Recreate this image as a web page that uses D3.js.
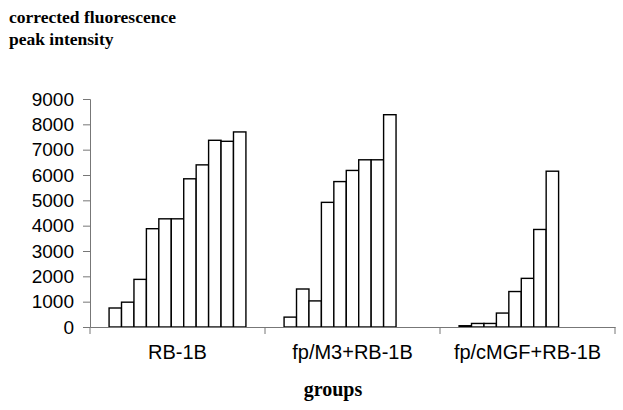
<!DOCTYPE html>
<html><head><meta charset="utf-8">
<script src="https://cdn.jsdelivr.net/npm/d3@7"></script>
<style>body{margin:0;background:#fff}</style>
</head><body>
<script>
const groups = ["RB-1B", "fp/M3+RB-1B", "fp/cMGF+RB-1B"];
const rb1b = [750, 980, 1880, 3880, 4270, 4270, 5850, 6400, 7370, 7330, 7700];
const fpM3 = [390, 1500, 1030, 4920, 5740, 6180, 6600, 6600, 8380];
const fpCMGF = [50, 140, 140, 550, 1400, 1920, 3850, 6150];
const yTicks = [0, 1000, 2000, 3000, 4000, 5000, 6000, 7000, 8000, 9000];
const titleLines = ["corrected fluorescence", "peak intensity"];
const xTitle = "groups";
const series = [rb1b, fpM3, fpCMGF];
const maxBars = 11;

const W = 623, H = 410;
const svg = d3.select("body").append("svg").attr("width", W).attr("height", H);
const x0 = d3.scaleBand().domain(groups).range([90, 615]).padding(0);
const x1 = d3.scaleBand().domain(d3.range(maxBars))
  .range([x0.bandwidth() * 0.109, x0.bandwidth() * 0.891]).padding(0);
const y = d3.scaleLinear().domain([0, 9000]).range([327, 99]);

// bars
groups.forEach((g, gi) => {
  svg.append("g").selectAll("rect").data(series[gi]).join("rect")
    .attr("x", (d, i) => x0(g) + x1(i))
    .attr("y", d => y(d))
    .attr("width", x1.bandwidth())
    .attr("height", d => y(0) - y(d))
    .attr("fill", "#fff").attr("stroke", "#000").attr("stroke-width", 1.4);
});

// y axis
const ya = svg.append("g").attr("transform", "translate(90,0)")
  .call(d3.axisLeft(y).tickValues(yTicks).tickSize(7).tickPadding(9).tickFormat(d3.format("d")));
ya.select(".domain").attr("stroke", "#777");
ya.selectAll(".tick line").attr("stroke", "#777");
ya.selectAll("text").attr("font-family", "Liberation Sans, Arial, sans-serif").attr("font-size", 19).attr("fill", "#000");

// x axis
const xa = svg.append("g").attr("transform", "translate(0,327)")
  .call(d3.axisBottom(x0).tickSize(0).tickPadding(18));
xa.select(".domain").attr("stroke", "#777");
xa.selectAll("text").attr("font-family", "Liberation Sans, Arial, sans-serif").attr("font-size", 20).attr("fill", "#000");
const bounds = [x0(groups[0])].concat(groups.map(g => x0(g) + x0.bandwidth()));
svg.append("g").selectAll("line").data(bounds).join("line")
  .attr("x1", d => d).attr("x2", d => d).attr("y1", 327).attr("y2", 334)
  .attr("stroke", "#777");

// titles
svg.append("text").attr("x", 9).attr("y", 23)
  .attr("font-family", "Liberation Serif, Times New Roman, serif").attr("font-weight", "bold").attr("font-size", 17.5)
  .selectAll("tspan").data(titleLines).join("tspan")
  .attr("x", 9).attr("dy", (d, i) => i ? 22 : 0).text(d => d);

svg.append("text").attr("x", 333).attr("y", 396).attr("text-anchor", "middle")
  .attr("font-family", "Liberation Serif, Times New Roman, serif").attr("font-weight", "bold").attr("font-size", 20)
  .text(xTitle);
</script>
</body></html>
